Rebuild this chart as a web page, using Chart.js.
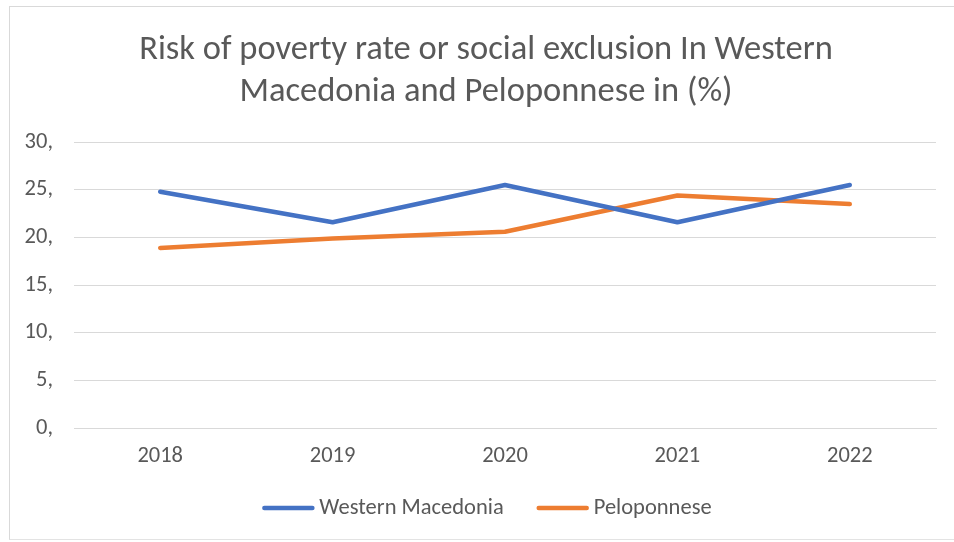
<!DOCTYPE html>
<html>
<head>
<meta charset="utf-8">
<script src="https://cdn.jsdelivr.net/npm/chart.js@4.4.1/dist/chart.umd.min.js"></script>
<style>
  html, body { margin: 0; padding: 0; background: #fff; }
  .frame {
    position: absolute; left: 9px; top: 6px; width: 960px; height: 532px;
    border-left: 1px solid #d9d9d9; border-top: 1px solid #d9d9d9; border-bottom: 1px solid #e3e3e3;
  }
  .wrap { position: absolute; left: 0; top: 0; width: 954px; height: 542px; }
</style>
</head>
<body>
<div class="frame"></div>
<div class="wrap"><canvas id="povertyChart"></canvas></div>
<script>
const years = ['2018', '2019', '2020', '2021', '2022'];
const westernMacedonia = [24.8, 21.6, 25.5, 21.6, 25.5];
const peloponnese = [18.9, 19.9, 20.6, 24.4, 23.5];
const yTicks = [0, 5, 10, 15, 20, 25, 30];

const FONT = "Carlito, 'Liberation Sans Narrow', 'DejaVu Sans Condensed', sans-serif";
const GREY = '#595959';
const LABEL_SIZE = 22.5;

// the chart frame is wider than the plot on the right, so the title sits a bit right of centre
const titleShift = {
  id: 'titleShift',
  afterLayout(chart) {
    const t = chart.titleBlock;
    if (!t) return;
    t.left += 18;
    t.right += 18;
  }
};

// bottom legend: a short thick line sample followed by the series name
const lineLegend = {
  id: 'lineLegend',
  afterDraw(chart) {
    const ctx = chart.ctx;
    const sample = 52, textGap = 5, itemGap = 33, cy = 508, center = 487;
    ctx.save();
    ctx.font = `${LABEL_SIZE}px ${FONT}`;
    const items = chart.data.datasets.map((ds) => ({
      label: ds.label,
      color: ds.borderColor,
      w: sample + textGap + ctx.measureText(ds.label).width
    }));
    const total = items.reduce((s, it) => s + it.w, 0) + itemGap * (items.length - 1);
    let x = center - total / 2;
    items.forEach((it) => {
      ctx.strokeStyle = it.color;
      ctx.lineWidth = 4.5;
      ctx.lineCap = 'round';
      ctx.beginPath();
      ctx.moveTo(x + 2, cy);
      ctx.lineTo(x + sample - 2, cy);
      ctx.stroke();
      ctx.fillStyle = GREY;
      ctx.textBaseline = 'middle';
      ctx.textAlign = 'left';
      ctx.fillText(it.label, x + sample + textGap, cy);
      x += it.w + itemGap;
    });
    ctx.restore();
  }
};

document.addEventListener('DOMContentLoaded', () => {
  Chart.defaults.font.family = FONT;
  Chart.defaults.color = GREY;

  new Chart(document.getElementById('povertyChart'), {
    type: 'line',
    data: {
      labels: years,
      datasets: [
        {
          label: 'Western Macedonia',
          data: westernMacedonia,
          borderColor: '#4472c4',
          backgroundColor: '#4472c4',
          borderWidth: 4.5,
          borderCapStyle: 'round',
          borderJoinStyle: 'round',
          pointRadius: 0,
          tension: 0
        },
        {
          label: 'Peloponnese',
          data: peloponnese,
          borderColor: '#ed7d31',
          backgroundColor: '#ed7d31',
          borderWidth: 4.5,
          borderCapStyle: 'round',
          borderJoinStyle: 'round',
          pointRadius: 0,
          tension: 0
        }
      ]
    },
    plugins: [titleShift, lineLegend],
    options: {
      responsive: true,
      maintainAspectRatio: false,
      animation: false,
      layout: { padding: { left: 0, right: 18, top: 0, bottom: 57 } },
      scales: {
        x: {
          offset: true,
          grid: { display: false, drawTicks: false },
          border: { display: true, color: '#d9d9d9', width: 1 },
          ticks: { padding: 15, font: { size: LABEL_SIZE }, color: GREY }
        },
        y: {
          min: 0,
          max: 30,
          afterBuildTicks: (scale) => {
            scale.ticks = yTicks.map((v) => ({ value: v }));
          },
          afterFit: (scale) => { scale.width = 74; },
          grid: { color: '#d9d9d9', lineWidth: 1, drawTicks: false },
          border: { display: false },
          ticks: {
            padding: 21,
            font: { size: LABEL_SIZE },
            color: GREY,
            callback: (v) => `${v},`
          }
        }
      },
      plugins: {
        title: {
          display: true,
          text: ['Risk of poverty rate or social exclusion In Western', 'Macedonia and Peloponnese in (%)'],
          color: GREY,
          font: { size: 34.5, weight: 'normal', lineHeight: 1.22 },
          padding: { top: 29, bottom: 29 }
        },
        legend: { display: false },
        tooltip: { enabled: false }
      }
    }
  });
});
</script>
</body>
</html>
